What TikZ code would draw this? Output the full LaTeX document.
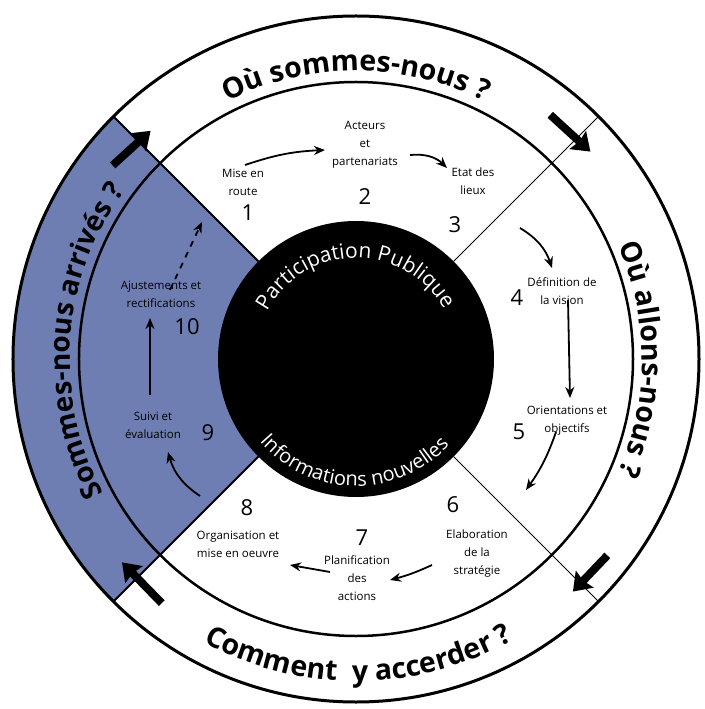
\documentclass[tikz,border=0pt]{standalone}
\usepackage{fontspec}
\setmainfont{Open Sans}
\usetikzlibrary{arrows.meta,decorations.text}
\definecolor{sectorblue}{RGB}{110,126,178}
\begin{document}
\begin{tikzpicture}[x=1pt,y=1pt,
  steptext/.style={font=\fontsize{11.5}{18}\selectfont, align=center, inner sep=0pt},
  stepnum/.style={font=\fontsize{22}{22}\selectfont, inner sep=0pt},
  flow/.style={line width=1.8pt, -{Stealth[length=11pt,width=9pt]}},
  cyclearrow/.style={line width=8pt, -{Stealth[length=17pt,width=24pt,inset=2pt]}},
]
\useasboundingbox (-356,-350) rectangle (348,359);

% left quarter of the wheel
\fill[sectorblue] (0,0) -- (135:343) arc[start angle=135,end angle=225,radius=343] -- cycle;

% sector borders
\draw[line width=2pt] (135:138) -- (135:343);
\draw[line width=2pt] (225:138) -- (225:343);
\draw[line width=1pt] (45:138) -- (45:343);
\draw[line width=1pt] (-45:138) -- (-45:343);

% rings and hub
\draw[line width=3pt] (0,0) circle[radius=343];
\draw[line width=2.5pt] (0,0) circle[radius=277];
\fill[black] (0,0) circle[radius=138];

% questions around the outer ring
\path[decorate, decoration={text along path, text align=center,
  text={|\bfseries\fontsize{28.5}{28}\selectfont|Où sommes-nous ?}}]
  (150:288) arc[start angle=150,end angle=30,radius=288];
\path[decorate, decoration={text along path, text align=center,
  text={|\bfseries\fontsize{28.5}{28}\selectfont|Où allons-nous ?}}]
  (60:286) arc[start angle=60,end angle=-60,radius=286];
\path[decorate, decoration={text along path, text align=center,
  text={|\bfseries\fontsize{28.5}{28}\selectfont|Comment {\hspace*{8pt}}y accerder ?}}]
  (200:322) arc[start angle=200,end angle=341,radius=322];
\path[decorate, decoration={text along path, text align=center,
  text={|\bfseries\fontsize{28}{28}\selectfont|Sommes-nous arrivés ?}}]
  (236:286) arc[start angle=236,end angle=116,radius=286];

% hub captions
\path[decorate, decoration={text along path, text align=center, text color=white,
  text={|\fontsize{21}{21}\selectfont|Participation Publique}}]
  (170:101) arc[start angle=170,end angle=11,radius=101];
\path[decorate, decoration={text along path, text align=center, text color=white,
  text={|\fontsize{20}{20}\selectfont|Informations nouvelles}}]
  (189:127) arc[start angle=189,end angle=349,radius=127];

% steps
\node[steptext] (s1) at (-113,177) {Mise en\\route};
\node[stepnum] (n1) at (-108,146) {1};
\node[steptext] (s2) at (9,214) {Acteurs\\et\\partenariats};
\node[stepnum] (n2) at (9,162) {2};
\node[steptext] (s3) at (117,178) {Etat des\\lieux};
\node[stepnum] (n3) at (99,134) {3};
\node[steptext] (s4) at (206,68) {Définition de\\la vision};
\node[stepnum] (n4) at (161,61) {4};
\node[steptext] (s5) at (211,-62) {Orientations et\\objectifs};
\node[stepnum] (n5) at (163,-73) {5};
\node[steptext] (s6) at (121,-195) {Elaboration\\de la\\stratégie};
\node[stepnum] (n6) at (97,-146) {6};
\node[steptext] (s7) at (1,-219) {Planification\\des\\actions};
\node[stepnum] (n7) at (6,-179) {7};
\node[steptext] (s8) at (-118,-185) {Organisation et\\mise en oeuvre};
\node[stepnum] (n8) at (-109,-149) {8};
\node[steptext] (s9) at (-203,-66) {Suivi et\\évaluation};
\node[stepnum] (n9) at (-148,-74) {9};
\node[steptext] (s10) at (-195,65) {Ajustements et\\rectifications};
\node[stepnum] (n10) at (-169,32) {10};

% arrow ends between the steps
\coordinate (a1) at (-111,194);  \coordinate (b1) at (-31,209);
\coordinate (a2) at (54,204);    \coordinate (b2) at (91,191);
\coordinate (a3) at (164,131);   \coordinate (b3) at (196,91);
\coordinate (a4) at (212,59);    \coordinate (b4) at (214,-39);
\coordinate (a5) at (200,-73);   \coordinate (b5) at (170,-131);
\coordinate (a6) at (76,-206);   \coordinate (b6) at (34,-221);
\coordinate (a7) at (-26,-213);  \coordinate (b7) at (-66,-206);
\coordinate (a8) at (-156,-137); \coordinate (b8) at (-188,-93);
\coordinate (a9) at (-206,-36);  \coordinate (b9) at (-206,41);
\coordinate (a10) at (-186,69);  \coordinate (b10) at (-154,137);

\draw[flow] (a1) to[bend left=8] (b1);
\draw[flow] (a2) to[bend left=25] (b2);
\draw[flow] (a3) to[bend left=20] (b3);
\draw[flow] (a4) -- (b4);
\draw[flow] (a5) to[bend left=8] (b5);
\draw[flow] (a6) to[bend left=5] (b6);
\draw[flow] (a7) -- (b7);
\draw[flow] (a8) to[bend left=20] (b8);
\draw[flow] (a9) -- (b9);
\draw[flow, dash pattern=on 6pt off 6pt] (a10) -- (b10);

% clockwise arrows on the outer ring
\coordinate (t1) at (141.5:311); \coordinate (h1) at (132:307);
\coordinate (t2) at (51.5:312);  \coordinate (h2) at (41.5:313);
\coordinate (t3) at (-38:319);   \coordinate (h3) at (-47:318);
\coordinate (t4) at (231.5:312); \coordinate (h4) at (221:310);
\draw[cyclearrow] (t1) -- (h1);
\draw[cyclearrow] (t2) -- (h2);
\draw[cyclearrow] (t3) -- (h3);
\draw[cyclearrow] (t4) -- (h4);
\end{tikzpicture}
\end{document}
